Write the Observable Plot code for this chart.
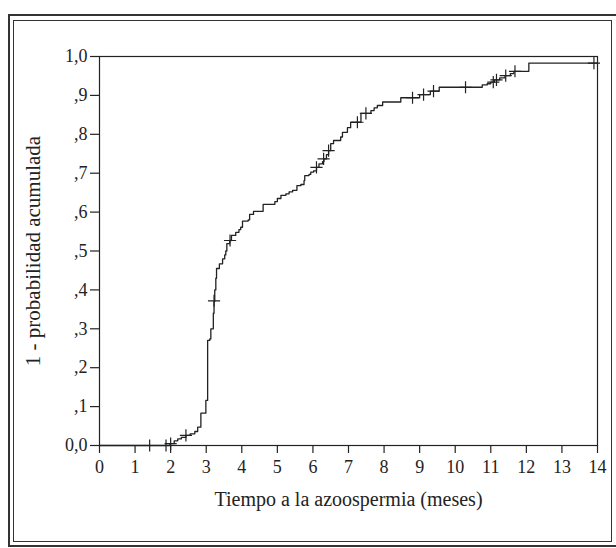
<!DOCTYPE html>
<html>
<head>
<meta charset="utf-8">
<script src="https://cdn.jsdelivr.net/npm/d3@7"></script>
<script src="https://cdn.jsdelivr.net/npm/@observablehq/plot@0.6"></script>
<style>
  html, body { margin: 0; padding: 0; background: #fff; }
  #wrap { position: relative; width: 616px; height: 548px; overflow: hidden; }
  #chart { position: absolute; left: 0; top: 0; }
  .outer { position: absolute; left: 8px; top: 14px; width: 620px; height: 533px; border: 2px solid #333; box-sizing: border-box; }
  .inner { position: absolute; left: 13px; top: 20px; width: 599px; height: 522px; border: 1.5px solid #333; box-sizing: border-box; }
  #chart svg g[aria-label="y-axis label"] text { font-size: 21px; }
  #chart svg g[aria-label="x-axis label"] text { font-size: 20px; }
</style>
</head>
<body>
<div id="wrap">
  <div id="chart"></div>
  <div class="outer"></div>
  <div class="inner"></div>
</div>
<script>
// Kaplan-Meier step points: time (months) at which the curve jumps, and level after the jump
const stepTimes = [0, 1.98, 2.1, 2.2, 2.3, 2.43, 2.55, 2.68, 2.76, 2.85, 2.99, 3.04, 3.10, 3.13, 3.20, 3.22, 3.24, 3.27, 3.29, 3.37, 3.46, 3.52, 3.55, 3.58, 3.66, 3.71, 3.83, 3.92, 3.97, 4.02, 4.18, 4.22, 4.33, 4.6, 4.93, 5.0, 5.1, 5.24, 5.33, 5.43, 5.55, 5.66, 5.75, 5.77, 5.89, 5.94, 6.02, 6.1, 6.17, 6.27, 6.31, 6.38, 6.44, 6.50, 6.58, 6.78, 6.83, 6.97, 7.06, 7.35, 7.63, 7.72, 7.81, 7.96, 8.47, 9.0, 9.3, 9.55, 10.76, 10.9, 11.0, 11.1, 11.25, 11.4, 11.55, 11.65, 12.07, 14.0];
const stepProbs = [0, 0.005, 0.012, 0.017, 0.021, 0.026, 0.030, 0.036, 0.047, 0.083, 0.116, 0.27, 0.274, 0.30, 0.34, 0.37, 0.40, 0.43, 0.455, 0.467, 0.48, 0.49, 0.50, 0.519, 0.527, 0.54, 0.548, 0.555, 0.561, 0.577, 0.58, 0.594, 0.602, 0.62, 0.627, 0.635, 0.643, 0.647, 0.652, 0.656, 0.668, 0.671, 0.681, 0.694, 0.697, 0.703, 0.706, 0.715, 0.724, 0.73, 0.737, 0.748, 0.758, 0.776, 0.784, 0.793, 0.805, 0.817, 0.831, 0.854, 0.861, 0.868, 0.874, 0.883, 0.894, 0.902, 0.911, 0.921, 0.927, 0.93, 0.934, 0.94, 0.945, 0.951, 0.956, 0.962, 0.983, 0.983];

// Censored observations (+ marks)
const censorTimes = [1.41, 1.87, 2.0, 2.43, 3.22, 3.67, 6.1, 6.3, 6.44, 7.25, 7.49, 8.8, 9.11, 9.39, 10.29, 11.07, 11.16, 11.42, 11.68, 13.9];
const censorProbs = [0, 0, 0.005, 0.026, 0.372, 0.527, 0.715, 0.737, 0.758, 0.831, 0.854, 0.894, 0.902, 0.911, 0.921, 0.934, 0.94, 0.951, 0.962, 0.983];

const xTicks = [0, 1, 2, 3, 4, 5, 6, 7, 8, 9, 10, 11, 12, 13, 14];
const yTicks = [0, 0.1, 0.2, 0.3, 0.4, 0.5, 0.6, 0.7, 0.8, 0.9, 1.0];
const yTickLabels = ["0,0", ",1", ",2", ",3", ",4", ",5", ",6", ",7", ",8", ",9", "1,0"];

const xLabel = "Tiempo a la azoospermia (meses)";
const yLabel = "1 - probabilidad acumulada";

const steps = stepTimes.map((t, i) => ({t, p: stepProbs[i]}));
const censored = censorTimes.map((t, i) => ({t, p: censorProbs[i]}));

const ink = "#222";

const chart = Plot.plot({
  width: 616,
  height: 548,
  marginTop: 56,
  marginBottom: 103,
  marginLeft: 99,
  marginRight: 19,
  style: { fontFamily: "'Liberation Serif', 'Times New Roman', serif", fontSize: "18px", color: ink, background: "#fff" },
  x: { domain: [0, 14] },
  y: { domain: [0, 1] },
  marks: [
    Plot.frame({ stroke: ink, strokeWidth: 1.2 }),
    Plot.axisY({
      ticks: yTicks,
      tickSize: 9,
      tickPadding: 3,
      tickFormat: (d) => yTickLabels[yTicks.findIndex((v) => Math.abs(v - d) < 1e-9)],
      label: yLabel,
      labelAnchor: "center",
      labelArrow: "none",
      labelOffset: 74,
      stroke: ink,
      strokeWidth: 1.2
    }),
    Plot.axisX({
      ticks: xTicks,
      tickSize: 8,
      tickPadding: 7,
      tickFormat: (d) => String(d),
      label: xLabel,
      labelAnchor: "center",
      labelArrow: "none",
      labelOffset: 60,
      stroke: ink,
      strokeWidth: 1.2
    }),
    Plot.line(steps, { x: "t", y: "p", curve: "step-after", stroke: ink, strokeWidth: 1.3 }),
    Plot.dot(censored, { x: "t", y: "p", symbol: "plus", r: 4, stroke: ink, strokeWidth: 1.2 })
  ]
});
document.getElementById("chart").appendChild(chart);
</script>
</body>
</html>
